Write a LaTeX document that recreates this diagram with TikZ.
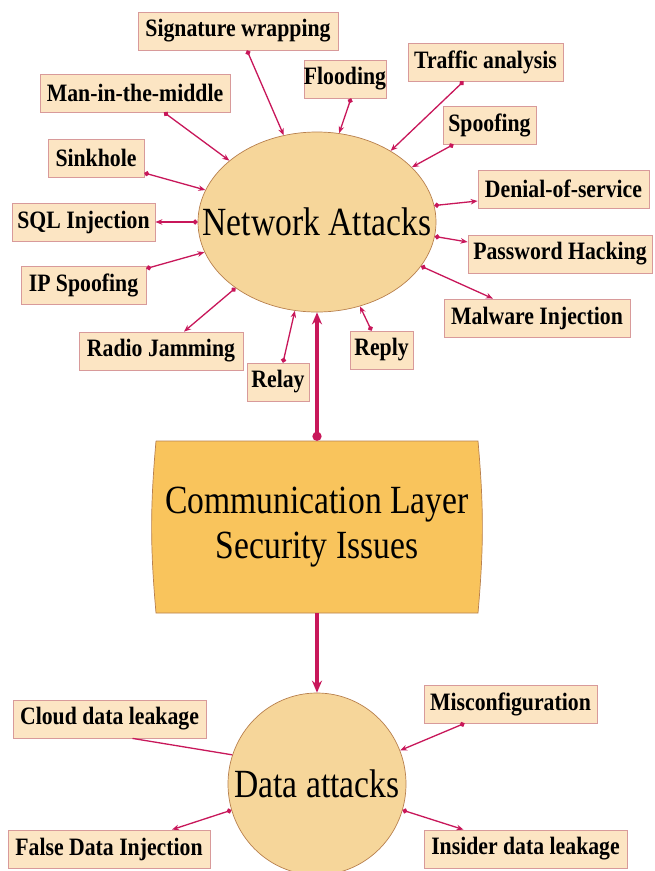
\documentclass[tikz,border=0pt]{standalone}
\usepackage{fontspec}
\newfontfamily\lblfont{Liberation Serif}[FakeStretch=0.87]
\newfontfamily\bigfont{Liberation Serif}[FakeStretch=0.84]
\usetikzlibrary{arrows.meta,calc,shapes.geometric}
\definecolor{boxfill}{HTML}{FCE5C3}
\definecolor{boxline}{HTML}{D89A9A}
\definecolor{ellfill}{HTML}{F6D69A}
\definecolor{ellline}{HTML}{B8804E}
\definecolor{cfill}{HTML}{F9C45C}
\definecolor{conncol}{HTML}{C8175A}
\begin{document}
\begin{tikzpicture}[x=1pt,y=-1pt,
  lbl/.style={draw=boxline, fill=boxfill, line width=0.8pt, inner sep=0pt,
    font=\lblfont\bfseries\fontsize{25}{28}\selectfont, minimum height=38pt},
  ell/.style={ellipse, draw=ellline, fill=ellfill, line width=0.7pt, inner sep=0pt},
  bigtxt/.style={font=\bigfont\fontsize{40}{45}\selectfont, inner sep=0pt, align=center},
  conn/.style={draw=conncol, line width=1.3pt},
  dotarr/.style={conn, {Circle[length=5pt]}-{Stealth[length=7pt,width=5.5pt]}},
  plainc/.style={conn},
  thickc/.style={draw=conncol, line width=3.5pt}]
\fill[white] (0,0) rectangle (654,871);
\useasboundingbox (0,0) rectangle (654,871);

% ellipses
\node[ell, minimum width=238pt, minimum height=180pt] (net) at (317,222) {};
\node[bigtxt] (nettxt) at (net.center) {Network Attacks};
\node[ell, minimum width=178pt, minimum height=182pt] (data) at (317,784) {};
\node[bigtxt] (datatxt) at (data.center) {Data attacks};

% central box
\filldraw[fill=cfill, draw=ellline, line width=0.7pt]
  (156,441) -- (478,441) to[bend left=5] (478,613) -- (156,613) to[bend left=5] (156,441);
\node[bigtxt, minimum width=322pt, minimum height=172pt] (cbox) at (317,527)
  {Communication Layer\\Security Issues};

% label boxes (network attacks)
\node[lbl, minimum width=200pt] (sig) at (238,31) {Signature wrapping};
\node[lbl, minimum width=190pt] (man) at (135,93) {Man-in-the-middle};
\node[lbl, minimum width=96pt] (sink) at (96,158) {Sinkhole};
\node[lbl, minimum width=143pt] (sql) at (83.5,222) {SQL Injection};
\node[lbl, minimum width=125pt] (ip) at (83.5,285.5) {IP Spoofing};
\node[lbl, minimum width=164pt] (radio) at (161,351) {Radio Jamming};
\node[lbl, minimum width=62pt] (relay) at (278,382) {Relay};
\node[lbl, minimum width=63pt] (reply) at (381.5,350) {Reply};
\node[lbl, minimum width=76pt] (flood) at (345,79) {Flooding};
\node[lbl, minimum width=155pt] (traffic) at (485.5,62) {Traffic analysis};
\node[lbl, minimum width=93pt] (spoof) at (489.5,125) {Spoofing};
\node[lbl, minimum width=171pt] (dos) at (563.5,189) {Denial-of-service};
\node[lbl, minimum width=184pt] (pwd) at (560,254) {Password Hacking};
\node[lbl, minimum width=186pt] (mal) at (537,318) {Malware Injection};

% label boxes (data attacks)
\node[lbl, minimum width=193pt] (cloud) at (109.5,719) {Cloud data leakage};
\node[lbl, minimum width=173pt] (misc) at (510.5,704) {Misconfiguration};
\node[lbl, minimum width=202pt] (false) at (109,849) {False Data Injection};
\node[lbl, minimum width=203pt] (insider) at (525.5,849) {Insider data leakage};

% connectors: dot at box, arrow at ellipse
\draw[dotarr] ($(sig.south)+(9,0)$) -- (net.111);
\draw[dotarr] ($(flood.south)+(6,0)$) -- (net.76);
\draw[dotarr] ($(traffic.south)+(-22,0)$) -- (net.44);
\draw[dotarr] ($(spoof.south)+(-36,0)$) -- (net.30);
\draw[dotarr] ($(man.south)+(29,0)$) -- (net.145);
\draw[dotarr] ($(sink.east)+(0,15)$) -- (net.164);
\draw[dotarr] ($(ip.east)+(0,-17)$) -- (net.195);
\draw[dotarr] ($(relay.north)+(5,0)$) -- (net.256);
\draw[dotarr] ($(reply.north)+(-10,0)$) -- (net.297);
% connectors: dot at ellipse, arrow at box
\draw[dotarr] (net.180) -- (sql.east);
\draw[dotarr] (net.219) -- ($(radio.north)+(23,0)$);
\draw[dotarr] (net.8) -- ($(dos.west)+(0,12)$);
\draw[dotarr] (net.353) -- ($(pwd.west)+(0,-12)$);
\draw[dotarr] (net.337) -- ($(mal.north)+(-44,0)$);

% data attack connectors
\draw[plainc] ($(cloud.south)+(23,0)$) -- (data.161);
\draw[dotarr] ($(misc.south)+(-46,0)$) -- (data.22);
\draw[dotarr] (data.197) -- ($(false.north)+(63,0)$);
\draw[dotarr] (data.343) -- ($(insider.north)+(-62,0)$);

% thick connectors
\draw[thickc, {Circle[length=9pt]}-{Stealth[length=12pt,width=10pt]}] (cbox.north) -- (net.south);
\draw[thickc, -{Stealth[length=12pt,width=10pt]}] (cbox.south) -- (data.north);
\end{tikzpicture}
\end{document}
